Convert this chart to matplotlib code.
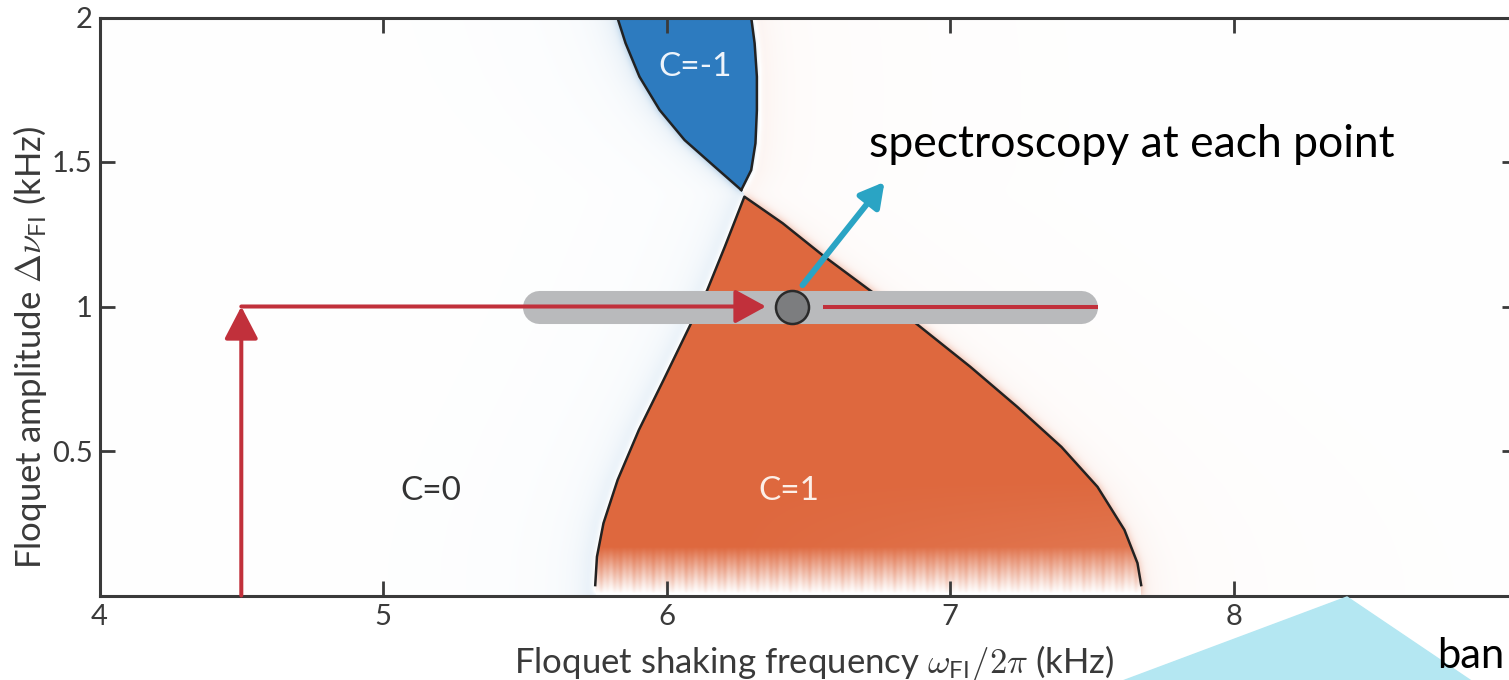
import numpy as np
import matplotlib.pyplot as plt
from matplotlib.path import Path
from matplotlib.patches import Polygon

plt.rcParams['font.family'] = ['Lato', 'DejaVu Sans']
plt.rcParams['mathtext.fontset'] = 'cm'

# phase boundaries: shaking frequency (kHz) vs amplitude (kHz)
c1_left_x = [5.748, 5.754, 5.777, 5.827, 5.902, 5.989, 6.086, 6.143, 6.205, 6.274]
c1_left_y = [0.036, 0.134, 0.250, 0.400, 0.573, 0.746, 0.942, 1.057, 1.207, 1.380]
c1_right_x = [6.274, 6.409, 6.549, 6.715, 6.877, 7.071, 7.237, 7.392, 7.519, 7.614, 7.660, 7.673]
c1_right_y = [1.380, 1.288, 1.178, 1.057, 0.943, 0.791, 0.652, 0.514, 0.376, 0.227, 0.112, 0.036]

cm1_left_x = [6.263, 6.169, 6.063, 5.975, 5.904, 5.855, 5.826]
cm1_left_y = [1.403, 1.484, 1.576, 1.680, 1.795, 1.911, 2.0]
cm1_right_x = [6.298, 6.310, 6.318, 6.318, 6.313, 6.298, 6.263]
cm1_right_y = [2.0, 1.911, 1.795, 1.680, 1.565, 1.472, 1.403]

region_labels = ['C=0', 'C=1', 'C=-1']
region_x = [5.17, 6.43, 6.10]
region_y = [0.36, 0.36, 1.83]
region_colors = ['#333333', '#fcefe8', '#eef4fb']

# measurement protocol: ramp amplitude, then sweep frequency
ramp_x = [4.5, 4.5]
ramp_y = [0.0, 1.0]
sweep_x = [4.5, 6.35]
resume_x = [6.55, 7.52]
bar_x = [5.55, 7.46]
sweep_amp = 1.0
probe_x = 6.443
probe_arrow_from = (6.479, 1.074)
probe_arrow_to = (6.768, 1.431)

xticks = [4, 5, 6, 7, 8, 9]
yticks = [0.5, 1, 1.5, 2]
ytick_labels = ['0.5', '1', '1.5', '2']

BLUE = np.array([45, 123, 191]) / 255
ORANGE = np.array([222, 104, 62]) / 255
RED = '#c1303b'
CYAN = '#2aa4c4'
AX_COLOR = '#3a3a3a'

W, H = 1509, 680
fig = plt.figure(figsize=(W / 100, H / 100), dpi=100)
ax = fig.add_axes([99.5 / W, 84.5 / H, 1418 / W, 578 / H])


def blur(a, sigma):
    r = int(3 * sigma)
    k = np.exp(-0.5 * (np.arange(-r, r + 1) / sigma) ** 2)
    k /= k.sum()
    a = np.apply_along_axis(lambda v: np.convolve(v, k, mode='same'), 0, a)
    return np.apply_along_axis(lambda v: np.convolve(v, k, mode='same'), 1, a)


# Chern-number map on a pixel grid
nx, ny = 1418, 578
X, Y = np.meshgrid(np.linspace(4, 9, nx), np.linspace(0, 2, ny))
pts = np.column_stack([X.ravel(), Y.ravel()])

c1_poly = ([(c1_left_x[0], -0.05)] + list(zip(c1_left_x, c1_left_y))
           + list(zip(c1_right_x[1:], c1_right_y[1:])) + [(c1_right_x[-1], -0.05)])
cm1_poly = (list(zip(cm1_left_x, cm1_left_y)) + [(cm1_left_x[-1], 2.05), (cm1_right_x[0], 2.05)]
            + list(zip(cm1_right_x, cm1_right_y)))
in_c1 = Path(c1_poly).contains_points(pts).reshape(X.shape)
in_cm1 = Path(cm1_poly).contains_points(pts).reshape(X.shape)

# horizontal distance to the left/right phase edges
xl = np.interp(Y, np.array(c1_left_y + cm1_left_y), np.array(c1_left_x + cm1_left_x))
xr = np.interp(Y, np.array(c1_right_y[::-1] + cm1_right_y[::-1]),
               np.array(c1_right_x[::-1] + cm1_right_x[::-1]))
dl = xl - X
dr = X - xr

V = np.zeros_like(X)
left = dl > 0
V[left] = -(0.13 * np.exp(-dl[left] / 0.05) + 0.03 * np.exp(-dl[left] / 0.4))
right = dr > 0
V[right] = 0.08 * np.exp(-dr[right] / 0.05) + 0.025 * np.exp(-dr[right] / 0.7)
V += 0.45 * blur(in_c1.astype(float) - in_cm1.astype(float), 4)

# C=1 lobe fades out towards zero amplitude
fade = np.clip((Y - 0.005) / 0.16, 0, 1)
streak = 0.5 + 0.25 * np.sin(2 * np.pi * X / 0.023) + 0.25 * np.sin(2 * np.pi * X / 0.061 + 1.3)
level = fade ** (0.75 + 0.5 * streak)
level *= 1 - 0.15 * np.clip((0.4 - Y) / 0.4, 0, 1) * np.clip((X - 6.2) / 1.4, 0, 1)
V[in_c1] = level[in_c1]
V[in_cm1] = -1

pos = np.clip(V, 0, 1)[..., None]
neg = np.clip(-V, 0, 1)[..., None]
rgb = np.clip(1 - pos * (1 - ORANGE) - neg * (1 - BLUE), 0, 1)
ax.imshow(rgb, extent=(4, 9, 0, 2), origin='lower', aspect='auto',
          interpolation='bilinear', zorder=0)

# phase boundaries
ax.plot(c1_left_x + c1_right_x[1:], c1_left_y + c1_right_y[1:], color='#222222', lw=1.8, zorder=2)
ax.plot(cm1_left_x, cm1_left_y, color='#222222', lw=1.8, zorder=2)
ax.plot(cm1_right_x, cm1_right_y, color='#222222', lw=1.8, zorder=2)

for lab, lx, ly, lc in zip(region_labels, region_x, region_y, region_colors):
    ax.text(lx, ly, lab, color=lc, fontsize=24, ha='center', va='center', zorder=3)

# frequency sweep path
ax.plot(bar_x, [sweep_amp, sweep_amp], lw=23.8, color='#b9babc',
        solid_capstyle='round', zorder=3)
ax.annotate('', xy=(ramp_x[1], ramp_y[1]), xytext=(ramp_x[0], ramp_y[0]),
            arrowprops=dict(arrowstyle='-|>,head_length=1.0,head_width=0.52',
                            mutation_scale=20, color=RED, lw=2.9,
                            shrinkA=0, shrinkB=0), zorder=4)
ax.annotate('', xy=(sweep_x[1], sweep_amp), xytext=(sweep_x[0], sweep_amp),
            arrowprops=dict(arrowstyle='-|>,head_length=0.95,head_width=0.52',
                            mutation_scale=20, color=RED, lw=2.9,
                            shrinkA=0, shrinkB=0), zorder=4)
ax.plot(resume_x, [sweep_amp, sweep_amp], color=RED, lw=2.9,
        solid_capstyle='butt', zorder=4)
ax.plot([probe_x], [sweep_amp], 'o', ms=23.8, mfc='#7c7d7f', mec='#2a2a2a',
        mew=1.8, zorder=5)
ax.annotate('', xy=probe_arrow_to, xytext=probe_arrow_from,
            arrowprops=dict(arrowstyle='-|>,head_length=0.72,head_width=0.4',
                            mutation_scale=20, color=CYAN, lw=4.3,
                            shrinkA=0, shrinkB=0), zorder=6)
ax.text(6.715, 1.517, 'spectroscopy at each point', fontsize=32, color='black',
        va='baseline', ha='left', zorder=6)

ax.set_xlim(4, 9)
ax.set_ylim(0, 2)
ax.set_xticks(xticks)
ax.set_yticks(yticks)
ax.set_yticklabels(ytick_labels)
ax.tick_params(direction='in', length=10.8, width=2, top=True, right=True,
               labelsize=21, colors=AX_COLOR)
ax.tick_params(axis='x', pad=6)
ax.tick_params(axis='y', pad=5)
for sp in ax.spines.values():
    sp.set_linewidth(2.2)
    sp.set_color(AX_COLOR)

ax.set_xlabel(r'Floquet shaking frequency $\omega_{\mathsf{FI}}/2\pi$ (kHz)',
              fontsize=25, color=AX_COLOR)
ax.xaxis.set_label_coords(0.504, -0.082)
ax.set_ylabel(r'Floquet amplitude $\Delta\nu_{\mathsf{FI}}$ (kHz)',
              fontsize=25, color=AX_COLOR)
ax.yaxis.set_label_coords(-0.0353, 0.43)

# callout wedge below the axis
wedge = Polygon([(1347 / W, 83 / H), (1107 / W, -0.01), (1480 / W, -0.01)],
                closed=True, transform=fig.transFigure, color='#b4e7f2', zorder=1)
fig.patches.append(wedge)
fig.text(1437 / W, 12 / H, 'ban', fontsize=30, color='black', va='baseline',
         ha='left', zorder=3)

fig.savefig('out.png', dpi=100)
